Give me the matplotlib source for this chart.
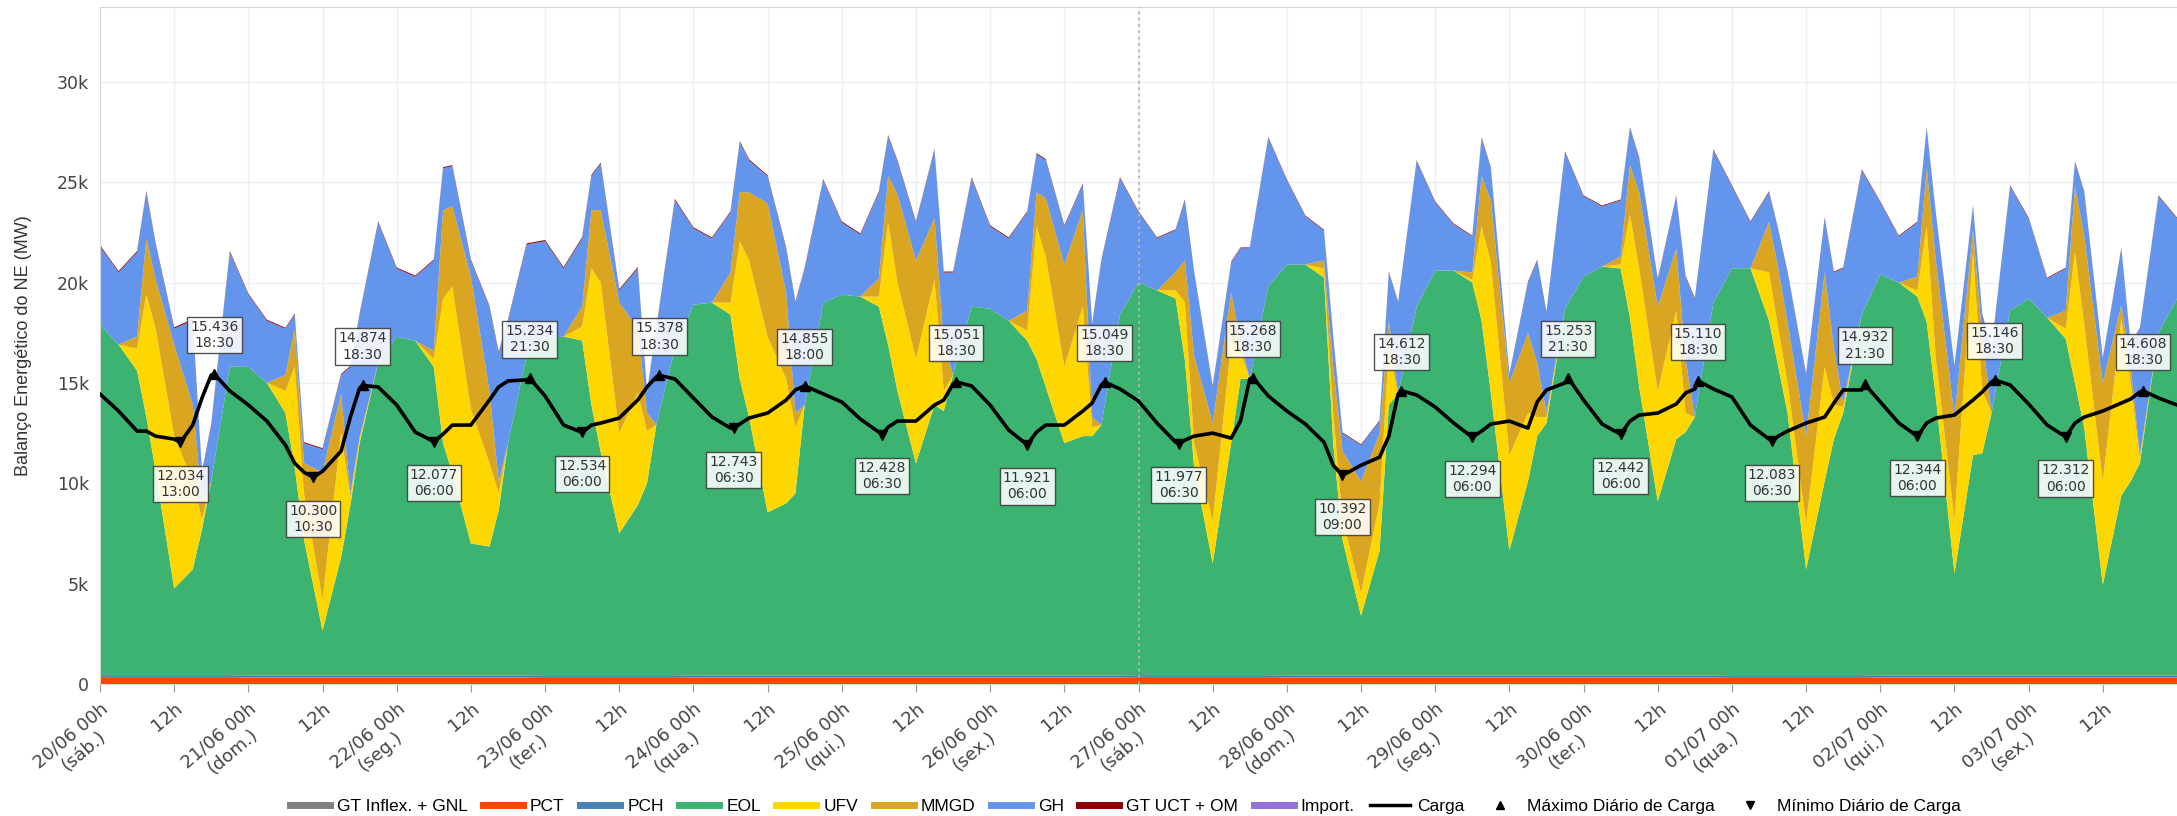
import matplotlib
matplotlib.use("Agg")
import matplotlib.pyplot as plt
from matplotlib.lines import Line2D
import numpy as np


# sampling hours inside each day (readings taken off the chart)
DAY_OFFSETS = [0, 3, 6, 7.5, 9, 12, 15, 16.5, 18, 21]
DATES = ["20/06", "21/06", "22/06", "23/06", "24/06", "25/06", "26/06",
         "27/06", "28/06", "29/06", "30/06", "01/07", "02/07", "03/07"]
WEEKDAYS = ["sáb.", "dom.", "seg.", "ter.", "qua.", "qui.", "sex.",
            "sáb.", "dom.", "seg.", "ter.", "qua.", "qui.", "sex."]

hours = [24 * d + o for d in range(len(DATES)) for o in DAY_OFFSETS] + [336]

# MW, one row per day (10 samples), last value = 04/07 00h
eol = [17470, 16470, 15170, 12870, 10170, 4320, 5270, 7270, 9670, 15370,
       15370, 14570, 13070, 10370, 6770, 2230, 5870, 8470, 11570, 15570,
       16870, 16670, 15370, 11570, 10070, 6570, 6420, 8220, 11570, 15920,
       16770, 16870, 16670, 13470, 11120, 7070, 8470, 9570, 12470, 16270,
       18470, 18570, 17970, 14770, 12870, 8120, 8570, 9070, 13470, 18570,
       18970, 18870, 18370, 16470, 14170, 10570, 13470, 13170, 14970, 18370,
       18270, 17670, 16670, 15770, 14370, 11570, 11920, 11920, 12470, 17970,
       19570, 19170, 18770, 15720, 10370, 5570, 11570, 14770, 14770, 19370,
       20470, 20470, 19820, 11570, 6770, 2970, 6220, 13470, 14020, 18370,
       20170, 20170, 19570, 17670, 14070, 6220, 9670, 11920, 12570, 18270,
       19870, 20370, 20270, 17820, 14370, 8670, 11770, 12120, 12870, 18570,
       20270, 20270, 17670, 15370, 13070, 5270, 9670, 11770, 13070, 17970,
       19970, 19570, 18870, 17620, 13820, 5070, 10970, 11070, 13070, 18170,
       18770, 17820, 16770, 14570, 12320, 4520, 8970, 9670, 10570, 17070, 18770]
ufv = [0, 0, 1100, 6100, 7100, 7600, 4400, 500, 0, 0,
       0, 0, 1100, 5000, 2300, 1540, 6200, 400, 200, 0,
       0, 0, 400, 7200, 9300, 6700, 4150, 850, 0, 0,
       0, 0, 700, 6800, 8450, 5000, 5600, 2600, 0, 0,
       0, 0, 600, 6850, 7800, 8750, 6200, 3300, 0, 0,
       0, 0, 500, 6100, 5400, 5200, 6250, 1000, 0, 0,
       0, 0, 500, 6600, 6500, 3800, 6450, 450, 0, 0,
       0, 0, 400, 2850, 1200, 2100, 5000, 1300, 0, 0,
       0, 0, 450, 1500, 1000, 1150, 2350, 2800, 0, 0,
       0, 0, 150, 4700, 6500, 4750, 3400, 950, 300, 0,
       0, 0, 200, 5150, 5900, 5500, 6400, 950, 0, 0,
       0, 0, 2400, 1900, 1500, 2300, 5700, 1700, 300, 0,
       0, 0, 300, 4750, 1950, 2700, 10100, 3100, 0, 0,
       0, 0, 500, 6500, 5150, 5150, 8800, 4900, 200, 0, 0]
mmgd = [0, 0, 600, 2800, 2450, 4550, 3800, 900, 0, 0,
        0, 0, 800, 1900, 1500, 6350, 1950, 200, 100, 0,
        0, 0, 400, 4400, 4000, 6600, 3600, 600, 0, 0,
        0, 0, 1000, 2900, 3600, 6500, 3200, 900, 0, 0,
        0, 0, 1500, 2450, 3400, 6650, 4300, 700, 0, 0,
        0, 0, 900, 2300, 4400, 4900, 3050, 2400, 0, 0,
        0, 0, 1000, 1700, 2900, 5100, 4800, 500, 0, 0,
        0, 0, 900, 2100, 4350, 4900, 2500, 500, 0, 0,
        0, 0, 400, 2300, 3400, 5550, 3500, 1400, 0, 0,
        0, 0, 350, 2500, 3100, 3600, 4000, 2700, 200, 0,
        0, 0, 400, 2450, 3800, 4200, 3100, 2700, 0, 0,
        0, 0, 2500, 3000, 3000, 4350, 4700, 2800, 200, 0,
        0, 0, 700, 2900, 4900, 5100, 1100, 2700, 0, 0,
        0, 0, 900, 3300, 4400, 4900, 700, 800, 200, 0, 0]
gh = [3900, 3600, 4200, 2300, 1750, 800, 4200, 1400, 2800, 5700,
      3600, 3100, 2300, 700, 1000, 1150, 950, 6300, 6100, 7000,
      3400, 3200, 4500, 2100, 2000, 800, 4200, 6400, 6100, 5550,
      4850, 3400, 3400, 1700, 2300, 600, 3000, 1000, 4800, 7400,
      3800, 3200, 3000, 2500, 1600, 1350, 2200, 5500, 6800, 6100,
      3600, 3100, 4300, 2000, 1650, 1900, 3400, 3500, 5100, 6400,
      4100, 4100, 4900, 1900, 1900, 1900, 1300, 4600, 8200, 6800,
      3500, 2600, 2100, 3000, 4150, 1800, 1500, 4700, 6500, 7400,
      4200, 2400, 1500, 1500, 900, 1800, 600, 2400, 4550, 7250,
      3400, 2300, 1800, 1900, 1600, 400, 2500, 5100, 5000, 7800,
      4000, 3000, 2800, 1850, 1700, 1350, 2600, 4100, 5900, 7600,
      4100, 2300, 1500, 1900, 2500, 3050, 2700, 3800, 6700, 7200,
      3600, 2300, 2700, 2000, 2300, 2500, 1200, 1100, 3200, 6200,
      4000, 1950, 2100, 1200, 2200, 1200, 2800, 1100, 6300, 6800, 4000]
carga = [14450, 13600, 12600, 12600, 12350, 12200, 12900, 14250, 15400, 14600,
         13900, 13100, 11900, 11000, 10550, 10600, 11600, 13300, 14750, 14800,
         13900, 12550, 12000, 12450, 12900, 12900, 14150, 14800, 15100, 15150,
         14350, 12900, 12450, 12900, 13000, 13250, 14150, 14800, 15300, 15200,
         14250, 13300, 12750, 12950, 13250, 13500, 14150, 14650, 14900, 14450,
         14050, 13200, 12550, 12800, 13100, 13100, 13900, 14150, 14950, 14850,
         13900, 12650, 11900, 12550, 12900, 12900, 13600, 14000, 14900, 14700,
         14100, 13000, 12050, 12150, 12350, 12500, 12250, 13100, 15200, 14350,
         13600, 12950, 12050, 10900, 10400, 10900, 11300, 12350, 14450, 14400,
         13800, 13000, 12250, 12600, 12950, 13100, 12750, 14050, 14650, 15000,
         14150, 12950, 12450, 13100, 13400, 13500, 13950, 14500, 14700, 14700,
         14300, 12900, 12200, 12350, 12600, 13000, 13300, 14000, 14650, 14650,
         14050, 13000, 12400, 13000, 13250, 13400, 14150, 14550, 15050, 14900,
         13950, 12900, 12400, 13000, 13300, 13600, 14000, 14200, 14550, 14250, 13900]

# small, nearly flat layers (one reading per day)
gt_inflex_daily = [0] * 14
pct_daily = [340, 330, 330, 340, 330, 330, 330, 340, 330, 330, 330, 340, 330, 330]
pch_daily = [100, 100, 100, 100, 100, 100, 100, 100, 100, 100, 100, 100, 100, 100]
gt_uct_daily = [60, 50, 50, 60, 50, 50, 50, 40, 40, 40, 40, 40, 40, 40]
import_daily = [0] * 14

# daily max / min of load (annotated)
max_vals = [15436, 14874, 15234, 15378, 14855, 15051, 15049, 15268, 14612, 15253, 15110, 14932, 15146, 14608]
max_hhmm = ["18:30", "18:30", "21:30", "18:30", "18:00", "18:30", "18:30",
            "18:30", "18:30", "21:30", "18:30", "21:30", "18:30", "18:30"]
min_vals = [12034, 10300, 12077, 12534, 12743, 12428, 11921, 11977, 10392, 12294, 12442, 12083, 12344, 12312]
min_hhmm = ["13:00", "10:30", "06:00", "06:00", "06:30", "06:30", "06:00",
            "06:30", "09:00", "06:00", "06:00", "06:30", "06:00", "06:00"]

LAYERS = [
    ("GT Inflex. + GNL", "#808080"),
    ("PCT", "#ff4500"),
    ("PCH", "#4682b4"),
    ("EOL", "#3cb371"),
    ("UFV", "#ffd700"),
    ("MMGD", "#daa520"),
    ("GH", "#6495ed"),
    ("GT UCT + OM", "#8b0000"),
    ("Import.", "#9370db"),
]

NARROW = ["Liberation Sans Narrow", "Liberation Sans", "DejaVu Sans"]


def per_day(daily):
    return np.append(np.repeat(daily, len(DAY_OFFSETS)), daily[-1])


def to_hours(day, hhmm):
    hh, mm = hhmm.split(":")
    return 24 * day + int(hh) + int(mm) / 60.0


def main():
    x = np.array(hours, dtype=float)
    stack = [per_day(gt_inflex_daily), per_day(pct_daily), per_day(pch_daily),
             np.array(eol), np.array(ufv), np.array(mmgd), np.array(gh),
             per_day(gt_uct_daily), per_day(import_daily)]

    fig = plt.figure(figsize=(21.77, 8.16), dpi=100)
    ax = fig.add_axes([100 / 2177, 132 / 816, 2077 / 2177, 677 / 816])

    ax.stackplot(x, *stack, colors=[c for _, c in LAYERS], linewidth=0, zorder=2)

    # load line, with the annotated extremes merged into it
    load = dict(zip(hours, carga))
    max_t = [to_hours(d, t) for d, t in enumerate(max_hhmm)]
    min_t = [to_hours(d, t) for d, t in enumerate(min_hhmm)]
    load.update(zip(max_t, max_vals))
    load.update(zip(min_t, min_vals))
    lt = sorted(load)
    ax.plot(lt, [load[t] for t in lt], color="black", lw=2.6, zorder=5)

    box = dict(boxstyle="square,pad=0.22", fc="white", ec="#3a3a3a", lw=1.0, alpha=0.88)
    ax.plot(max_t, max_vals, "^", color="black", ms=7, zorder=6)
    ax.plot(min_t, min_vals, "v", color="black", ms=7, zorder=6)
    for t, v, hm in zip(max_t, max_vals, max_hhmm):
        ax.annotate(f"{v / 1000:.3f}\n{hm}", (t, v), xytext=(0, 28), textcoords="offset points",
                    ha="center", va="center", fontsize=10, color="#333333",
                    linespacing=1.2, bbox=box, zorder=7)
    for t, v, hm in zip(min_t, min_vals, min_hhmm):
        ax.annotate(f"{v / 1000:.3f}\n{hm}", (t, v), xytext=(0, -30), textcoords="offset points",
                    ha="center", va="center", fontsize=10, color="#333333",
                    linespacing=1.2, bbox=box, zorder=7)

    ax.axvline(168, color="#b5b5b5", ls=(0, (1.5, 2)), lw=1.3, zorder=4)

    ax.set_xlim(0, 336)
    ax.set_ylim(0, 33730)
    yt = list(range(0, 30001, 5000))
    ax.set_yticks(yt)
    ax.set_yticklabels(["0"] + [f"{v // 1000}k" for v in yt[1:]])

    xt = list(range(0, 325, 12))
    labels = []
    for t in xt:
        if t % 24 == 0:
            d = t // 24
            labels.append(f"{DATES[d]} 00h\n({WEEKDAYS[d]})")
        else:
            labels.append("12h")
    ax.set_xticks(xt)
    ax.set_xticklabels(labels)
    for lbl in ax.get_xticklabels():
        lbl.set_rotation(40)
        lbl.set_ha("right")
        lbl.set_va("top")
        lbl.set_rotation_mode("anchor")
        lbl.set_multialignment("center")

    ax.tick_params(axis="x", length=6, color="#9a9a9a", labelsize=13, labelcolor="#444444", pad=5)
    ax.tick_params(axis="y", length=0, labelsize=12.5, labelcolor="#444444", pad=8)
    ax.grid(True, color="#eceff5", lw=1.0, zorder=0)
    ax.set_axisbelow(True)
    for side in ("left", "top", "bottom"):
        ax.spines[side].set_color("#d6d6d6")
    ax.spines["right"].set_visible(False)

    ax.set_ylabel("Balanço Energético do NE (MW)", fontsize=13, color="#333333",
                  family=NARROW, labelpad=18)

    handles = [Line2D([0], [0], color=c, lw=5) for _, c in LAYERS]
    handles.append(Line2D([0], [0], color="black", lw=2.5))
    handles.append(Line2D([0], [0], color="black", marker="^", ls="none", ms=6))
    handles.append(Line2D([0], [0], color="black", marker="v", ls="none", ms=6))
    names = [n for n, _ in LAYERS] + ["Carga", "Máximo Diário de Carga", "Mínimo Diário de Carga"]
    fig.legend(handles, names, loc="center", bbox_to_anchor=(0.517, 0.012), ncol=12,
               frameon=False, handlelength=2.3, handletextpad=0.4, columnspacing=0.9,
               prop={"family": NARROW, "size": 12.5})

    fig.savefig("out.png", dpi=100)
    plt.close(fig)


if __name__ == "__main__":
    main()
